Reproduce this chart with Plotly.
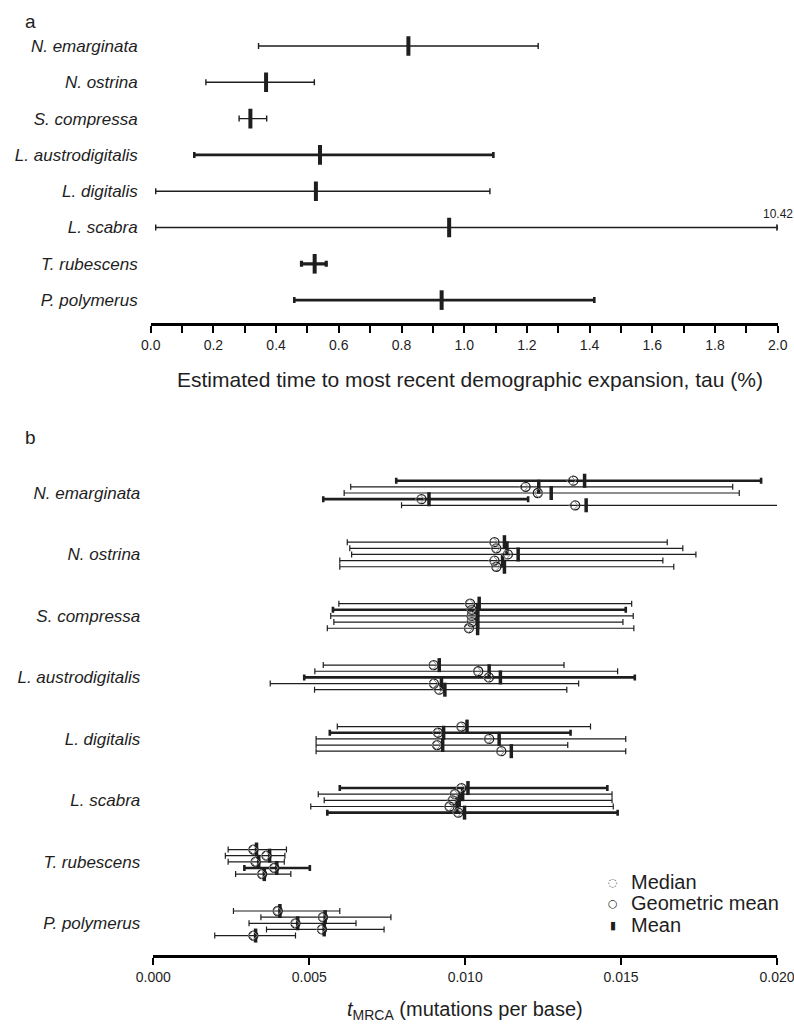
import plotly.graph_objects as go

# ---------------- DATA ----------------
species = ["N. emarginata", "N. ostrina", "S. compressa", "L. austrodigitalis",
           "L. digitalis", "L. scabra", "T. rubescens", "P. polymerus"]

# Panel a: tau (%)
tau_low = [0.344, 0.176, 0.282, 0.139, 0.016, 0.016, 0.481, 0.458]
tau_mean = [0.822, 0.368, 0.318, 0.540, 0.527, 0.952, 0.523, 0.928]
tau_high = [1.236, 0.522, 0.370, 1.093, 1.082, 10.42, 0.560, 1.415]
tau_ticks = [0.0, 0.2, 0.4, 0.6, 0.8, 1.0, 1.2, 1.4, 1.6, 1.8, 2.0]

# Panel b: tMRCA (mutations per base), five estimates per species (top to bottom)
tmrca_low = [
    [0.00779, 0.00633, 0.00612, 0.00545, 0.00796],
    [0.00622, 0.00630, 0.00636, 0.00598, 0.00598],
    [0.00595, 0.00576, 0.00569, 0.00579, 0.00558],
    [0.00545, 0.00518, 0.00484, 0.00375, 0.00517],
    [0.00590, 0.00566, 0.00522, 0.00522, 0.00522],
    [0.00598, 0.00529, 0.00548, 0.00505, 0.00558],
    [0.00240, 0.00231, 0.00240, 0.00292, 0.00264],
    [0.00257, 0.00345, 0.00307, 0.00363, 0.00197],
]
tmrca_high = [
    [0.01949, 0.01858, 0.01879, 0.01202, 0.02003],
    [0.01648, 0.01698, 0.01740, 0.01634, 0.01669],
    [0.01534, 0.01515, 0.01539, 0.01506, 0.01541],
    [0.01317, 0.01489, 0.01544, 0.01364, 0.01326],
    [0.01402, 0.01338, 0.01515, 0.01329, 0.01515],
    [0.01456, 0.01471, 0.01471, 0.01475, 0.01489],
    [0.00427, 0.00422, 0.00420, 0.00502, 0.00441],
    [0.00598, 0.00762, 0.00650, 0.00740, 0.00456],
]
tmrca_geomean = [
    [0.01347, 0.01194, 0.01233, 0.00860, 0.01353],
    [0.01094, 0.01100, 0.01137, 0.01094, 0.01100],
    [0.01016, 0.01021, 0.01021, 0.01021, 0.01012],
    [0.00899, 0.01042, 0.01076, 0.00900, 0.00917],
    [0.00988, 0.00913, 0.01077, 0.00910, 0.01116],
    [0.00988, 0.00967, 0.00960, 0.00950, 0.00978],
    [0.00321, 0.00363, 0.00328, 0.00388, 0.00349],
    [0.00399, 0.00544, 0.00456, 0.00541, 0.00321],
]
tmrca_median = [
    [0.01340, 0.01188, 0.01236, 0.00855, 0.01348],
    [0.01090, 0.01097, 0.01132, 0.01090, 0.01097],
    [0.01014, 0.01019, 0.01019, 0.01018, 0.01010],
    [0.00896, 0.01038, 0.01073, 0.00897, 0.00913],
    [0.00985, 0.00910, 0.01073, 0.00908, 0.01112],
    [0.00985, 0.00964, 0.00957, 0.00947, 0.00975],
    [0.00320, 0.00361, 0.00327, 0.00386, 0.00347],
    [0.00397, 0.00541, 0.00454, 0.00538, 0.00320],
]
tmrca_mean = [
    [0.01383, 0.01236, 0.01276, 0.00884, 0.01388],
    [0.01126, 0.01134, 0.01170, 0.01120, 0.01126],
    [0.01045, 0.01040, 0.01040, 0.01040, 0.01040],
    [0.00917, 0.01077, 0.01113, 0.00924, 0.00935],
    [0.01006, 0.00931, 0.01109, 0.00928, 0.01148],
    [0.01009, 0.00992, 0.00981, 0.00974, 0.00998],
    [0.00331, 0.00373, 0.00338, 0.00396, 0.00356],
    [0.00406, 0.00551, 0.00463, 0.00548, 0.00328],
]
tmrca_ticks = [0.000, 0.005, 0.010, 0.015, 0.020]
legend_labels = ["Median", "Geometric mean", "Mean"]

# ---------------- STYLE / LAYOUT CONSTANTS ----------------
W, H = 794, 1026
ML, MR = 150, 16
PW = W - ML - MR
FONT = "Liberation Sans, Arial, Helvetica, sans-serif"
SYMFONT = "DejaVu Sans, sans-serif"
INK = "#1e1e1e"
A_THICK = {3: 2.6, 6: 3.2, 7: 2.6}
A_THIN = 1.4
B_THICK = {(0, 0), (0, 3), (2, 1), (3, 2), (4, 1), (5, 0), (5, 4), (6, 3)}
SUB_STEP = 0.1
TAU_MAX = 2.0


def px(x):  # page pixel x -> paper fraction
    return (x - ML) / PW


def py(y):  # page pixel y -> paper fraction
    return 1 - y / H


fig = go.Figure()

# ---------------- PANEL A ----------------
for i, sp in enumerate(species):
    hi = min(tau_high[i], TAU_MAX)
    fig.add_trace(go.Scatter(
        x=[tau_mean[i]], y=[i], mode="markers", xaxis="x", yaxis="y",
        marker=dict(symbol="line-ns", size=14, line=dict(width=4, color=INK), color=INK),
        error_x=dict(type="data", symmetric=False, array=[hi - tau_mean[i]],
                     arrayminus=[tau_mean[i] - tau_low[i]], color=INK,
                     thickness=A_THICK.get(i, A_THIN), width=3),
        showlegend=False, hoverinfo="skip"))
    if tau_high[i] > TAU_MAX:
        fig.add_trace(go.Scatter(
            x=[TAU_MAX], y=[i], mode="markers", xaxis="x", yaxis="y",
            marker=dict(symbol="triangle-right", size=6, color=INK),
            showlegend=False, hoverinfo="skip"))
        fig.add_annotation(x=TAU_MAX, y=i, xref="x", yref="y", text=f"{tau_high[i]:.2f}",
                           showarrow=False, xanchor="center", yanchor="bottom", yshift=5,
                           font=dict(size=12, color=INK, family=FONT))

# ---------------- PANEL B ----------------
for thick in (False, True):
    xs, ys, ap, am = [], [], [], []
    for i in range(len(species)):
        for j in range(5):
            if ((i, j) in B_THICK) != thick:
                continue
            y = i + (j - 2) * SUB_STEP
            xs.append(tmrca_mean[i][j]); ys.append(y)
            ap.append(tmrca_high[i][j] - tmrca_mean[i][j])
            am.append(tmrca_mean[i][j] - tmrca_low[i][j])
    fig.add_trace(go.Scatter(
        x=xs, y=ys, mode="markers", xaxis="x2", yaxis="y2",
        marker=dict(symbol="line-ns", size=10, line=dict(width=3.5, color=INK), color=INK),
        error_x=dict(type="data", symmetric=False, array=ap, arrayminus=am, color=INK,
                     thickness=2.6 if thick else 1.2, width=3),
        showlegend=False, hoverinfo="skip"))

ypos = [i + (j - 2) * SUB_STEP for i in range(len(species)) for j in range(5)]
fig.add_trace(go.Scatter(
    x=[v for row in tmrca_geomean for v in row], y=ypos, mode="markers",
    xaxis="x2", yaxis="y2",
    marker=dict(symbol="circle-open", size=9, line=dict(width=1.3, color=INK), color=INK),
    showlegend=False, hoverinfo="skip"))
fig.add_trace(go.Scatter(
    x=[v for row in tmrca_median for v in row], y=ypos, mode="markers",
    xaxis="x2", yaxis="y2",
    marker=dict(symbol="diamond-open", size=7, line=dict(width=1, color="#8a8a8a"), color="#8a8a8a"),
    showlegend=False, hoverinfo="skip"))

# ---------------- LAYOUT ----------------
ylab = [f"<i>{s}</i>" for s in species]
common_x = dict(showline=True, linewidth=3, linecolor="black", ticks="outside", ticklen=7,
                tickwidth=2, tickcolor="black", showgrid=False, zeroline=False,
                automargin=False, ticklabeloverflow="allow",
                tickfont=dict(size=14, color=INK, family=FONT))
common_y = dict(showgrid=False, zeroline=False, showline=False, ticks="", automargin=False,
                tickvals=list(range(len(species))), ticktext=ylab, ticklabelstandoff=12,
                tickfont=dict(size=17, color=INK, family=FONT))

a_top, a_bot = 21, 323
a_row0, a_step = 46, 36.3
b_top, b_bot = 456, 955
b_row0, b_step = 493, 61.47

fig.update_layout(
    width=W, height=H, margin=dict(l=ML, r=MR, t=0, b=0),
    paper_bgcolor="white", plot_bgcolor="white",
    font=dict(family=FONT, color=INK),
    xaxis=dict(common_x, domain=[px(150.7), px(777.7)], range=[0, TAU_MAX], anchor="y",
               tickvals=tau_ticks, tickformat=".1f",
               minor=dict(dtick=0.1, ticks="outside", ticklen=7, tickwidth=2, tickcolor="black")),
    yaxis=dict(common_y, domain=[py(a_bot), py(a_top)], anchor="x",
               range=[(a_bot - a_row0) / a_step, (a_top - a_row0) / a_step]),
    xaxis2=dict(common_x, domain=[px(153.3), px(777)], range=[0, 0.020], anchor="y2",
                tickvals=tmrca_ticks, tickformat=".3f"),
    yaxis2=dict(common_y, domain=[py(b_bot), py(b_top)], anchor="x2",
                range=[(b_bot - b_row0) / b_step, (b_top - b_row0) / b_step]),
    showlegend=False,
)

# legend (symbol glyphs + labels)
leg_syms = ["◌", "○", "▮"]
leg_y = [882, 903, 925]
for sym, lab, yy in zip(leg_syms, legend_labels, leg_y):
    fig.add_annotation(x=px(613), y=py(yy), xref="paper", yref="paper", text=sym,
                       showarrow=False, xanchor="center", yanchor="middle",
                       font=dict(size=11, color="#555" if sym == "◌" else INK, family=SYMFONT))
    fig.add_annotation(x=px(629), y=py(yy), xref="paper", yref="paper", text=lab,
                       showarrow=False, xanchor="left", yanchor="middle",
                       font=dict(size=20, color=INK, family=FONT))

fig.add_annotation(x=px(23), y=py(21), xref="paper", yref="paper", text="a", showarrow=False,
                   xanchor="left", yanchor="middle", font=dict(size=19, color=INK, family=FONT))
fig.add_annotation(x=px(23), y=py(437), xref="paper", yref="paper", text="b", showarrow=False,
                   xanchor="left", yanchor="middle", font=dict(size=19, color=INK, family=FONT))
fig.add_annotation(x=px(470), y=py(379), xref="paper", yref="paper",
                   text="Estimated time to most recent demographic expansion, tau (%)",
                   showarrow=False, xanchor="center", yanchor="middle",
                   font=dict(size=21, color=INK, family=FONT))
fig.add_annotation(x=px(465), y=py(1010), xref="paper", yref="paper",
                   text="<i>t</i><sub>MRCA</sub> (mutations per base)",
                   showarrow=False, xanchor="center", yanchor="middle",
                   font=dict(size=20, color=INK, family=FONT))

# remove the browser's default page margin and scrollbars so the figure fills the window
page_css = ("document.documentElement.style.margin='0';document.documentElement.style.overflow='hidden';"
            "document.body.style.margin='0';document.body.style.overflow='hidden';")
fig.write_html("out.html", post_script=page_css, config={"displayModeBar": False})
